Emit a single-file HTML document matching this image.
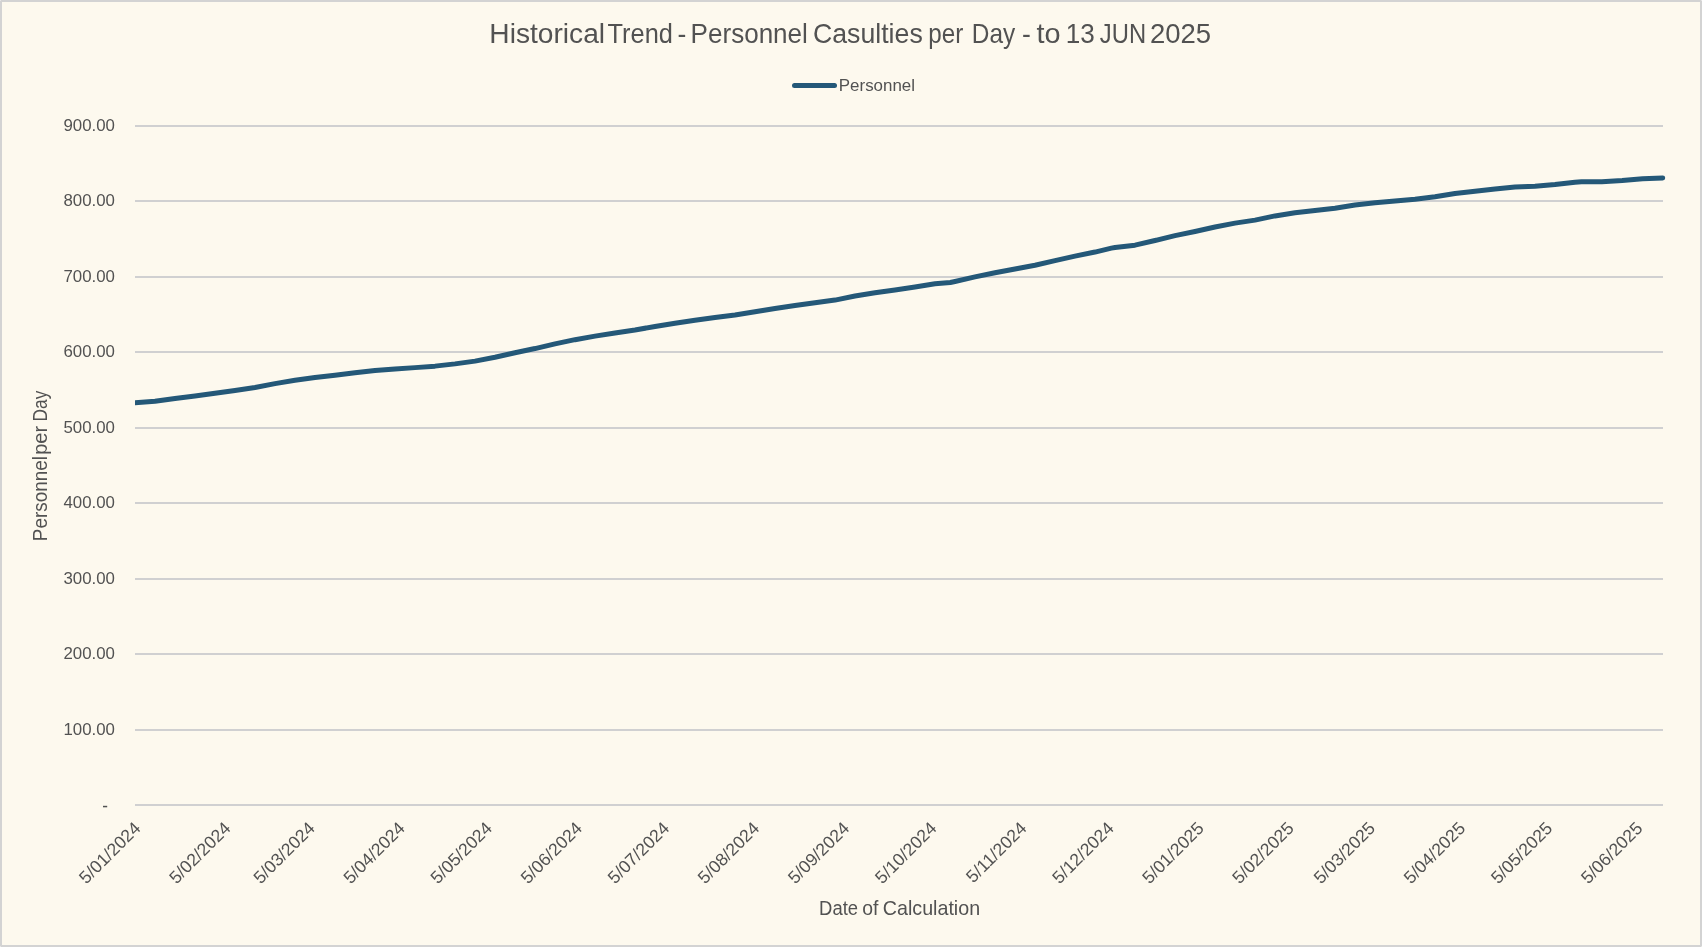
<!DOCTYPE html>
<html lang="en"><head><meta charset="utf-8"><title>Historical Trend - Personnel Casulties per Day</title>
<style>html,body{margin:0;padding:0;background:#FDF9EE;}body{width:1702px;height:947px;overflow:hidden;font-family:"Liberation Sans",sans-serif;}svg{display:block;position:absolute;left:0;top:0;}text{font-family:"Liberation Sans",sans-serif;fill:#525252;}</style></head><body>
<svg width="1702" height="947" viewBox="0 0 1702 947">
<rect x="0" y="0" width="1702" height="947" fill="#D3D3D3"/>
<rect x="2" y="2" width="1698" height="943" fill="#FDF9EE"/>
<rect x="0" y="0" width="1" height="1" fill="#E6E6E6"/>
<rect x="1701" y="0" width="1" height="1" fill="#E6E6E6"/>
<rect x="0" y="946" width="1" height="1" fill="#E6E6E6"/>
<rect x="1701" y="946" width="1" height="1" fill="#E6E6E6"/>
<mask id="m" maskUnits="userSpaceOnUse" x="0" y="0" width="1702" height="947"><rect x="0" y="0" width="1702" height="947" fill="#fff"/></mask>
<rect x="135" y="125" width="1528" height="2" fill="#D0D0D1"/>
<rect x="135" y="200" width="1528" height="2" fill="#D0D0D1"/>
<rect x="135" y="276" width="1528" height="2" fill="#D0D0D1"/>
<rect x="135" y="351" width="1528" height="2" fill="#D0D0D1"/>
<rect x="135" y="427" width="1528" height="2" fill="#D0D0D1"/>
<rect x="135" y="502" width="1528" height="2" fill="#D0D0D1"/>
<rect x="135" y="578" width="1528" height="2" fill="#D0D0D1"/>
<rect x="135" y="653" width="1528" height="2" fill="#D0D0D1"/>
<rect x="135" y="729" width="1528" height="2" fill="#D0D0D1"/>
<rect x="135" y="804" width="1528" height="2" fill="#D0D0D1"/>
<g mask="url(#m)">
<text transform="translate(63.46 131.00) scale(0.9740 1)" font-size="17.3">900.00</text>
<text transform="translate(63.46 206.44) scale(0.9740 1)" font-size="17.3">800.00</text>
<text transform="translate(63.46 281.89) scale(0.9740 1)" font-size="17.3">700.00</text>
<text transform="translate(63.46 357.33) scale(0.9740 1)" font-size="17.3">600.00</text>
<text transform="translate(63.46 432.78) scale(0.9740 1)" font-size="17.3">500.00</text>
<text transform="translate(63.46 508.22) scale(0.9740 1)" font-size="17.3">400.00</text>
<text transform="translate(63.46 583.67) scale(0.9740 1)" font-size="17.3">300.00</text>
<text transform="translate(63.46 659.11) scale(0.9740 1)" font-size="17.3">200.00</text>
<text transform="translate(63.46 734.56) scale(0.9740 1)" font-size="17.3">100.00</text>
<rect x="103" y="805.8" width="4.2" height="1.5" fill="#525252"/>
<text transform="translate(489.33 42.70) scale(1.0314 1)" font-size="27.3">Historical</text>
<text transform="translate(607.54 42.70) scale(0.9293 1)" font-size="27.3">Trend</text>
<text transform="translate(677.44 42.70) scale(0.9701 1)" font-size="27.3">-</text>
<text transform="translate(690.60 42.70) scale(0.9546 1)" font-size="27.3">Personnel</text>
<text transform="translate(812.93 42.70) scale(0.9782 1)" font-size="27.3">Casulties</text>
<text transform="translate(928.20 42.70) scale(0.8871 1)" font-size="27.3">per</text>
<text transform="translate(971.83 42.70) scale(0.8942 1)" font-size="27.3">Day</text>
<text transform="translate(1021.94 42.70) scale(0.9701 1)" font-size="27.3">-</text>
<text transform="translate(1036.48 42.70) scale(1.0566 1)" font-size="27.3">to</text>
<text transform="translate(1065.69 42.70) scale(0.9557 1)" font-size="27.3">13</text>
<text transform="translate(1099.85 42.70) scale(0.8713 1)" font-size="27.3">JUN</text>
<text transform="translate(1149.89 42.70) scale(1.0086 1)" font-size="27.3">2025</text>
<line x1="794.5" y1="85.5" x2="834.5" y2="85.5" stroke="#245878" stroke-width="5" stroke-linecap="round"/>
<text transform="translate(838.81 90.95) scale(0.9959 1)" font-size="17.0">Personnel</text>
<text transform="translate(819.08 914.70) scale(0.9506 1)" font-size="19.4">Date</text>
<text transform="translate(862.30 914.70) scale(1.0000 1)" font-size="19.4">of</text>
<text transform="translate(882.79 914.70) scale(1.0144 1)" font-size="19.4">Calculation</text>
<text transform="translate(46.95 541.15) rotate(-90) scale(0.9694 1)" font-size="19.5">Personnel</text>
<text transform="translate(46.95 454.83) rotate(-90) scale(1.0263 1)" font-size="19.5">per</text>
<text transform="translate(46.95 421.42) rotate(-90) scale(0.8848 1)" font-size="19.5">Day</text>
<text transform="translate(141.70 829.30) rotate(-45)" font-size="17.6" text-anchor="end">5/01/2024</text>
<text transform="translate(231.75 829.30) rotate(-45)" font-size="17.6" text-anchor="end">5/02/2024</text>
<text transform="translate(316.00 829.30) rotate(-45)" font-size="17.6" text-anchor="end">5/03/2024</text>
<text transform="translate(406.05 829.30) rotate(-45)" font-size="17.6" text-anchor="end">5/04/2024</text>
<text transform="translate(493.20 829.30) rotate(-45)" font-size="17.6" text-anchor="end">5/05/2024</text>
<text transform="translate(583.25 829.30) rotate(-45)" font-size="17.6" text-anchor="end">5/06/2024</text>
<text transform="translate(670.40 829.30) rotate(-45)" font-size="17.6" text-anchor="end">5/07/2024</text>
<text transform="translate(760.45 829.30) rotate(-45)" font-size="17.6" text-anchor="end">5/08/2024</text>
<text transform="translate(850.51 829.30) rotate(-45)" font-size="17.6" text-anchor="end">5/09/2024</text>
<text transform="translate(937.65 829.30) rotate(-45)" font-size="17.6" text-anchor="end">5/10/2024</text>
<text transform="translate(1027.71 829.30) rotate(-45)" font-size="17.6" text-anchor="end">5/11/2024</text>
<text transform="translate(1114.86 829.30) rotate(-45)" font-size="17.6" text-anchor="end">5/12/2024</text>
<text transform="translate(1204.91 829.30) rotate(-45)" font-size="17.6" text-anchor="end">5/01/2025</text>
<text transform="translate(1294.96 829.30) rotate(-45)" font-size="17.6" text-anchor="end">5/02/2025</text>
<text transform="translate(1376.30 829.30) rotate(-45)" font-size="17.6" text-anchor="end">5/03/2025</text>
<text transform="translate(1466.35 829.30) rotate(-45)" font-size="17.6" text-anchor="end">5/04/2025</text>
<text transform="translate(1553.50 829.30) rotate(-45)" font-size="17.6" text-anchor="end">5/05/2025</text>
<text transform="translate(1643.56 829.30) rotate(-45)" font-size="17.6" text-anchor="end">5/06/2025</text>
</g>
<clipPath id="c"><rect x="135" y="100" width="1540" height="720"/></clipPath>
<polyline clip-path="url(#c)" points="135.00,402.64 155.00,401.28 175.00,398.45 195.00,395.97 215.00,393.21 235.00,390.47 255.00,387.46 275.00,383.64 295.00,380.31 315.00,377.59 335.00,375.18 355.00,372.76 375.00,370.61 395.00,369.08 415.00,367.63 435.00,366.14 455.00,363.86 475.00,361.13 495.00,357.27 515.00,352.81 535.00,348.56 555.00,343.83 575.00,339.67 595.00,336.10 615.00,332.96 635.00,330.08 655.00,326.44 675.00,323.19 695.00,320.28 715.00,317.56 735.00,315.06 755.00,311.69 775.00,308.50 795.00,305.54 815.00,302.75 835.00,300.08 855.00,296.05 875.00,292.79 895.00,289.92 915.00,286.92 935.00,283.77 950.30,282.50 955.00,281.51 975.00,276.93 995.00,272.81 1015.00,268.96 1035.00,265.21 1055.00,260.62 1075.00,256.17 1095.00,252.06 1111.40,248.12 1115.00,247.43 1135.00,245.16 1155.00,240.52 1175.00,235.60 1195.00,231.43 1215.00,226.95 1235.00,223.12 1255.00,220.15 1275.00,215.91 1295.00,212.77 1315.00,210.48 1335.00,208.24 1355.00,204.94 1375.00,202.65 1395.00,200.95 1415.00,199.15 1435.00,196.70 1455.00,193.42 1475.00,191.23 1495.00,189.09 1515.00,187.00 1535.00,186.20 1555.00,184.51 1575.00,182.23 1581.50,181.77 1601.80,181.73 1622.20,180.49 1642.60,178.75 1662.70,177.90" fill="none" stroke="#245878" stroke-width="5" stroke-linejoin="round" stroke-linecap="round"/>
</svg></body></html>
